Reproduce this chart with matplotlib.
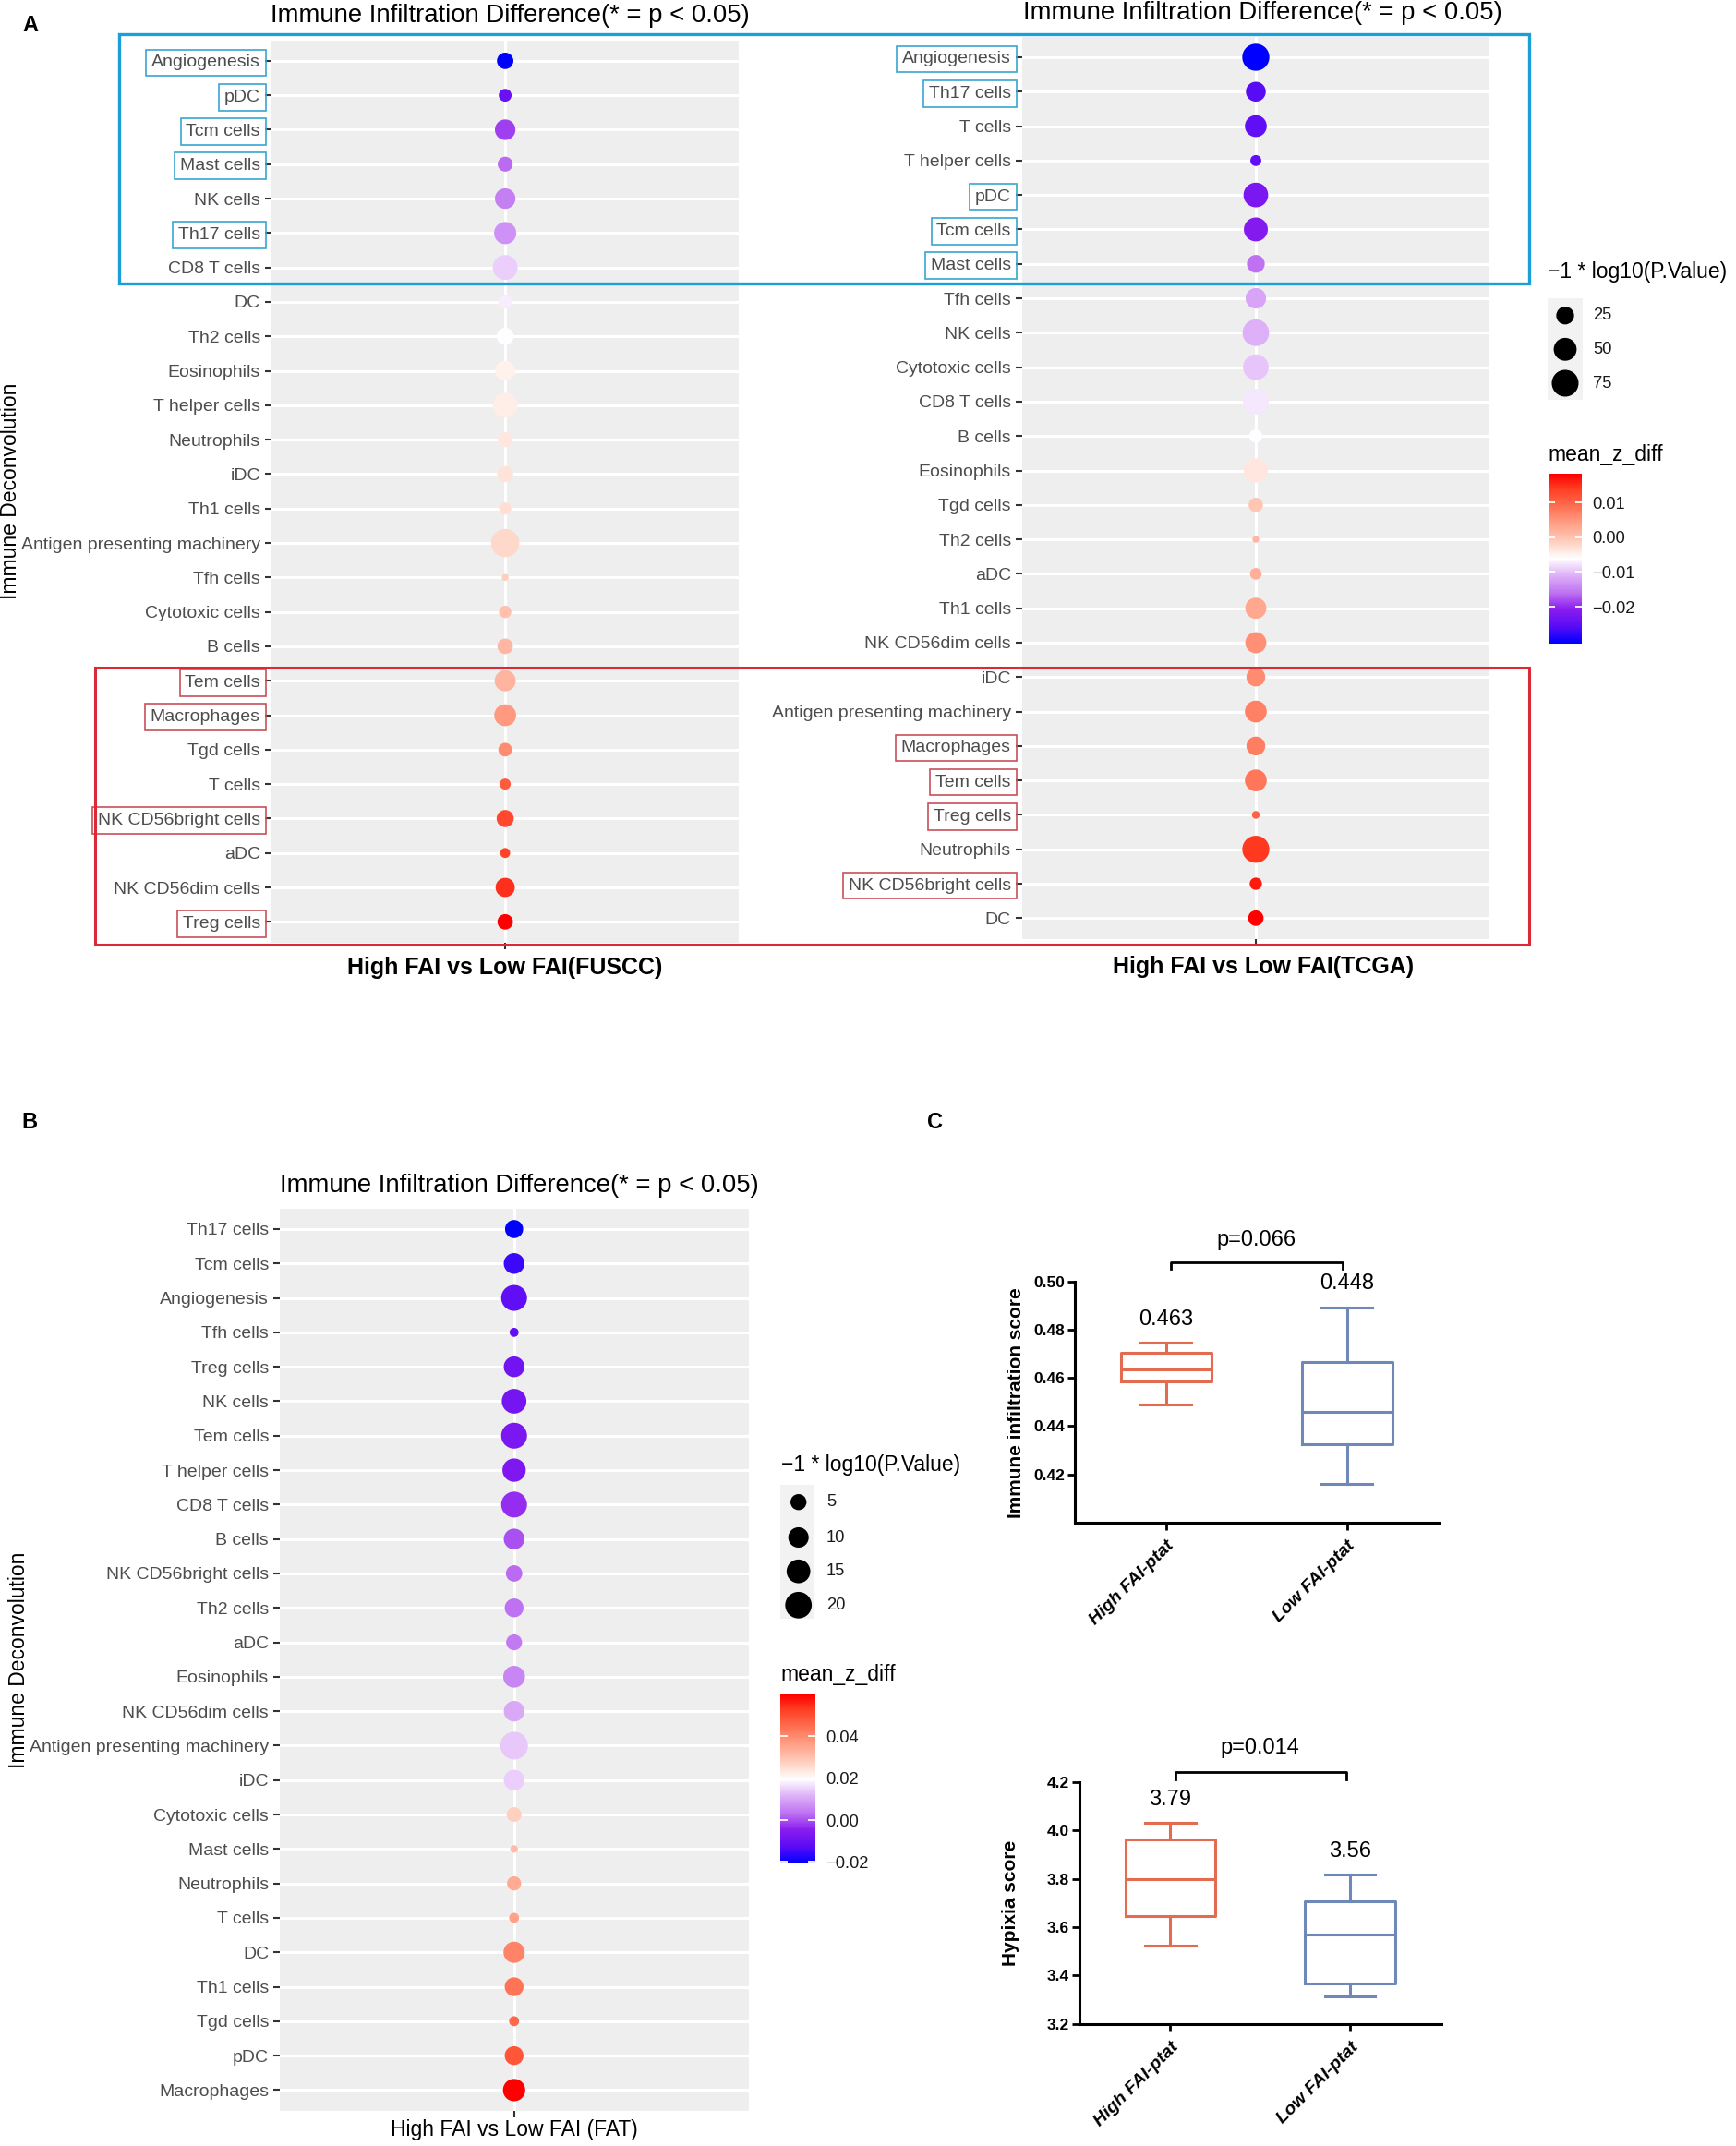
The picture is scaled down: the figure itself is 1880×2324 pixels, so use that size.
import numpy as np
import matplotlib
matplotlib.use('Agg')
import matplotlib.pyplot as plt
from matplotlib.colors import LinearSegmentedColormap, Normalize
from matplotlib.cm import ScalarMappable
from matplotlib.patches import Rectangle

################################################################
# data

# panel A, left: High FAI vs Low FAI (FUSCC)
FUSCC_CELLS = ['Angiogenesis', 'pDC', 'Tcm cells', 'Mast cells', 'NK cells', 'Th17 cells',
               'CD8 T cells', 'DC', 'Th2 cells', 'Eosinophils', 'T helper cells', 'Neutrophils',
               'iDC', 'Th1 cells', 'Antigen presenting machinery', 'Tfh cells', 'Cytotoxic cells',
               'B cells', 'Tem cells', 'Macrophages', 'Tgd cells', 'T cells', 'NK CD56bright cells',
               'aDC', 'NK CD56dim cells', 'Treg cells']
FUSCC_Z = [-0.0300, -0.0235, -0.0180, -0.0155, -0.0140, -0.0125, -0.0080, -0.0060, -0.0050,
           -0.0035, -0.0032, -0.0025, -0.0020, -0.0015, -0.0010, 0.0000, 0.0015, 0.0025, 0.0030,
           0.0060, 0.0075, 0.0125, 0.0145, 0.0150, 0.0165, 0.0200]
FUSCC_LOGP = [5.4, 2.4, 10.2, 4.0, 10.2, 12.6, 17.0, 3.1, 6.2, 9.4, 17.0, 4.0, 5.0, 2.0, 23.4,
              0.1, 2.1, 4.5, 11.0, 12.1, 3.0, 1.4, 6.1, 0.9, 8.5, 4.5]
FUSCC_BLUE = ['Angiogenesis', 'pDC', 'Tcm cells', 'Mast cells', 'Th17 cells']
FUSCC_RED = ['Tem cells', 'Macrophages', 'NK CD56bright cells', 'Treg cells']

# panel A, right: High FAI vs Low FAI (TCGA)
TCGA_CELLS = ['Angiogenesis', 'Th17 cells', 'T cells', 'T helper cells', 'pDC', 'Tcm cells',
              'Mast cells', 'Tfh cells', 'NK cells', 'Cytotoxic cells', 'CD8 T cells', 'B cells',
              'Eosinophils', 'Tgd cells', 'Th2 cells', 'aDC', 'Th1 cells', 'NK CD56dim cells', 'iDC',
              'Antigen presenting machinery', 'Macrophages', 'Tem cells', 'Treg cells',
              'Neutrophils', 'NK CD56bright cells', 'DC']
TCGA_Z = [-0.0305, -0.0256, -0.0251, -0.0247, -0.0222, -0.0212, -0.0159, -0.0120, -0.0110,
          -0.0096, -0.0076, -0.0062, -0.0037, -0.0003, 0.0012, 0.0021, 0.0031, 0.0055, 0.0060,
          0.0070, 0.0075, 0.0080, 0.0104, 0.0143, 0.0163, 0.0182]
TCGA_LOGP = [77, 34, 44, 4.9, 60.5, 56, 25, 37, 73, 66, 66, 10, 59, 13, 0.3, 6.2, 40, 40, 29,
             44, 29, 44, 0.85, 77, 7.6, 16.4]
TCGA_BLUE = ['Angiogenesis', 'Th17 cells', 'pDC', 'Tcm cells', 'Mast cells']
TCGA_RED = ['Macrophages', 'Tem cells', 'Treg cells', 'NK CD56bright cells']

# panel B: High FAI vs Low FAI (FAT)
FAT_CELLS = ['Th17 cells', 'Tcm cells', 'Angiogenesis', 'Tfh cells', 'Treg cells', 'NK cells',
             'Tem cells', 'T helper cells', 'CD8 T cells', 'B cells', 'NK CD56bright cells',
             'Th2 cells', 'aDC', 'Eosinophils', 'NK CD56dim cells', 'Antigen presenting machinery',
             'iDC', 'Cytotoxic cells', 'Mast cells', 'Neutrophils', 'T cells', 'DC', 'Th1 cells',
             'Tgd cells', 'pDC', 'Macrophages']
FAT_Z = [-0.0208, -0.0152, -0.0119, -0.0111, -0.0087, -0.0079, -0.0071, -0.0063, -0.0030,
         0.0002, 0.0026, 0.0034, 0.0042, 0.0058, 0.0107, 0.0139, 0.0147, 0.0276, 0.0308, 0.0341,
         0.0357, 0.0413, 0.0438, 0.0454, 0.0486, 0.0599]
FAT_LOGP = [7.2, 10.5, 18.8, 0.56, 10.5, 16.6, 18.8, 14.4, 18.8, 10.5, 5.4, 8.0, 4.9, 12.0,
            10.3, 22.3, 10.3, 3.9, 0.2, 3.35, 0.9, 11.2, 8.0, 0.9, 8.0, 12.8]

# legends
TCGA_SIZE_BREAKS = [25, 50, 75]
TCGA_Z_TICKS = [0.01, 0.00, -0.01, -0.02]
FAT_SIZE_BREAKS = [5, 10, 15, 20]
FAT_Z_TICKS = [0.04, 0.02, 0.00, -0.02]

# panel C: box plots (whislo, q1, med, q3, whishi)
GROUPS = ['High FAI-ptat', 'Low FAI-ptat']
INF_STATS = [[0.4489, 0.4587, 0.4635, 0.4704, 0.4745],
             [0.4162, 0.4324, 0.4460, 0.4665, 0.4893]]
INF_MEANS = ['0.463', '0.448']
INF_P = '0.066'
HYP_STATS = [[3.525, 3.645, 3.797, 3.964, 4.031],
             [3.312, 3.366, 3.568, 3.708, 3.817]]
HYP_MEANS = ['3.79', '3.56']
HYP_P = '0.014'

################################################################

W, H = 1880, 2324
PANEL_BG = '#EEEEEE'
BOX_COLORS = ['#E36B4F', '#6E88B7']
CMAP = LinearSegmentedColormap.from_list('z', [
    (0.00, '#0000FF'), (0.10, '#5A0CF6'), (0.20, '#8A1CEE'), (0.30, '#BF74F2'),
    (0.40, '#DDB0F8'), (0.46, '#F2DEFC'), (0.50, '#FFFFFF'), (0.56, '#FFE2D8'),
    (0.64, '#FFBCA8'), (0.72, '#FF9A80'), (0.82, '#FF6A4C'), (0.92, '#FF3A20'),
    (1.00, '#FF0000')])

plt.rcParams['font.family'] = ['Liberation Sans', 'DejaVu Sans']
fig = plt.figure(figsize=(W / 100, H / 100), dpi=100)


def px_rect(x0, y0, x1, y1):
    return [x0 / W, 1 - y1 / H, (x1 - x0) / W, (y1 - y0) / H]


def ftext(x, y, s, **kw):
    return fig.text(x / W, 1 - y / H, s, **kw)


def dot_pt(logp, k):
    return (6 + k * np.sqrt(np.asarray(logp, dtype=float))) * 0.72


def dot_panel(box, labels, z, logp, k, blue=(), red=()):
    ax = fig.add_axes(px_rect(*box))
    n = len(labels)
    y = np.arange(n)
    ax.set_facecolor(PANEL_BG)
    for yy in y:
        ax.axhline(yy, color='white', lw=2.2, zorder=1)
    ax.axvline(0, color='white', lw=2.2, zorder=1)
    norm = Normalize(vmin=min(z), vmax=max(z))
    ax.scatter(np.zeros(n), y, s=dot_pt(logp, k) ** 2, c=z, cmap=CMAP, norm=norm,
               edgecolors='none', zorder=3)
    ax.set_xlim(-0.6, 0.6)
    ax.set_ylim(n - 0.4, -0.6)
    ax.set_yticks(y)
    ax.set_yticklabels(labels)
    ax.set_xticks([0])
    ax.set_xticklabels([''])
    for sp in ax.spines.values():
        sp.set_visible(False)
    ax.tick_params(direction='out', length=5, width=1.5, color='#333333',
                   labelsize=14, labelcolor='#4D4D4D', pad=3.6)
    for lab in ax.get_yticklabels():
        t = lab.get_text()
        if t in blue:
            lab.set_bbox(dict(boxstyle='square,pad=0.3', fc='none', ec='#3AA6CF', lw=1.2))
        elif t in red:
            lab.set_bbox(dict(boxstyle='square,pad=0.3', fc='none', ec='#C8505A', lw=1.2))
    return ax, norm


def size_legend(title_xy, bg, cx, cys, breaks, k, lab_x):
    ftext(*title_xy, '\u22121 * log10(P.Value)', size=16.5, ha='left', va='center')
    lax = fig.add_axes(px_rect(*bg))
    lax.set_facecolor('#F2F2F2')
    lax.set_xlim(bg[0], bg[2])
    lax.set_ylim(bg[3], bg[1])
    lax.set_xticks([])
    lax.set_yticks([])
    for sp in lax.spines.values():
        sp.set_visible(False)
    lax.scatter([cx] * len(breaks), cys, s=dot_pt(breaks, k) ** 2, color='black',
                edgecolors='none')
    for b, cy in zip(breaks, cys):
        ftext(lab_x, cy, str(b), size=13.2, ha='left', va='center', color='#1A1A1A')


def colour_legend(title_xy, box, norm, ticks):
    ftext(*title_xy, 'mean_z_diff', size=16.5, ha='left', va='center')
    cax = fig.add_axes(px_rect(*box))
    cb = fig.colorbar(ScalarMappable(norm=norm, cmap=CMAP), cax=cax)
    cb.outline.set_visible(False)
    cb.set_ticks(ticks)
    cb.set_ticklabels([('%.2f' % t).replace('-', '\u2212') for t in ticks])
    cax.tick_params(length=0, labelsize=13.2, pad=8, labelcolor='#1A1A1A')
    cax.hlines(ticks, 0, 0.2, color='white', lw=1.3)
    cax.hlines(ticks, 0.8, 1.0, color='white', lw=1.3)


def box_panel(box, stats, ylim, yticks, fmt, means, bracket_y, drop, p_text, p_y, ylabel_xy, ylabel):
    ax = fig.add_axes(px_rect(*box))
    span = ylim[1] - ylim[0]
    for i, (lo, q1, med, q3, hi) in enumerate(stats):
        c = BOX_COLORS[i]
        st = dict(whislo=lo, q1=q1, med=med, q3=q3, whishi=hi, fliers=[])
        ax.bxp([st], positions=[i], widths=0.5, capwidths=0.28, showfliers=False,
               boxprops=dict(color=c, lw=2.2), whiskerprops=dict(color=c, lw=2.2),
               capprops=dict(color=c, lw=2.2), medianprops=dict(color=c, lw=2.2),
               manage_ticks=False)
        ax.text(i, hi + 0.097 * span, means[i], ha='center', va='center', size=17)
    ax.plot([0.027, 0.027, 0.977, 0.977],
            [bracket_y - drop, bracket_y, bracket_y, bracket_y - drop],
            color='black', lw=2.0, clip_on=False)
    ax.text(0.5, p_y, 'p=' + p_text, ha='center', va='center', size=17)
    ax.set_xlim(-0.505, 1.507)
    ax.set_ylim(*ylim)
    ax.set_yticks(yticks)
    ax.set_yticklabels([fmt % v for v in yticks], fontweight='bold', size=12.5)
    ax.set_xticks([0, 1])
    ax.set_xticklabels(GROUPS, rotation=45, ha='right', va='top', rotation_mode='anchor',
                       fontweight='bold', fontstyle='italic', size=14)
    for s in ('top', 'right'):
        ax.spines[s].set_visible(False)
    for s in ('left', 'bottom'):
        ax.spines[s].set_linewidth(2.2)
    ax.tick_params(direction='out', length=5.8, width=2, pad=2)
    ax.tick_params(axis='x', pad=6)
    ftext(*ylabel_xy, ylabel, rotation=90, ha='center', va='center', size=15, fontweight='bold')
    return ax


################################################################
# panel A

dot_panel((293.8, 43.5, 800.4, 1020.7), FUSCC_CELLS, FUSCC_Z, FUSCC_LOGP, 5.08,
          FUSCC_BLUE, FUSCC_RED)
ax_t, norm_t = dot_panel((1106.7, 39.6, 1613.3, 1016.7), TCGA_CELLS, TCGA_Z, TCGA_LOGP, 2.66,
                         TCGA_BLUE, TCGA_RED)

title = 'Immune Infiltration Difference(* = p < 0.05)'
ftext(552.8, 17, title, size=19.8, ha='center', va='center')
ftext(1367, 14, title, size=19.8, ha='center', va='center')
ftext(547, 1048, 'High FAI vs Low FAI(FUSCC)', size=18, fontweight='bold', ha='center', va='center')
ftext(1368, 1047, 'High FAI vs Low FAI(TCGA)', size=18, fontweight='bold', ha='center', va='center')
ftext(12, 532, 'Immune Deconvolution', size=16.5, rotation=90, ha='center', va='center')

size_legend((1676, 295), (1676, 323, 1714, 433), 1695, [341.7, 378.3, 415],
            TCGA_SIZE_BREAKS, 2.66, 1725)
colour_legend((1676, 492), (1676.7, 513.3, 1713.3, 696.7), norm_t, TCGA_Z_TICKS)

fig.add_artist(Rectangle((129 / W, 1 - 306.5 / H), (1656.4 - 129) / W, (306.5 - 37.2) / H,
                         transform=fig.transFigure, fill=False, ec='#1B9FD9', lw=2.4))
fig.add_artist(Rectangle((103 / W, 1 - 1022.7 / H), (1656.4 - 103) / W, (1022.7 - 723.3) / H,
                         transform=fig.transFigure, fill=False, ec='#DA2A35', lw=2.2))

# panel B
ax_b, norm_b = dot_panel((303, 1308.6, 810.5, 2285.8), FAT_CELLS, FAT_Z, FAT_LOGP, 5.08)
ftext(562.8, 1284, title, size=19.8, ha='center', va='center')
ftext(557, 2307, 'High FAI vs Low FAI (FAT)', size=16.5, ha='center', va='center')
ftext(21, 1798, 'Immune Deconvolution', size=16.5, rotation=90, ha='center', va='center')
size_legend((845.6, 1587), (845, 1608, 881, 1753), 864.7, [1626.7, 1665, 1701.7, 1738.3],
            FAT_SIZE_BREAKS, 5.08, 895)
colour_legend((845, 1813.4), (845, 1835.3, 883, 2018.3), norm_b, FAT_Z_TICKS)

# panel C
box_panel((1163.8, 1387.7, 1558, 1649), INF_STATS, (0.40, 0.50),
          [0.42, 0.44, 0.46, 0.48, 0.50], '%.2f', INF_MEANS, 0.508, 0.0028, INF_P, 0.5172,
          (1100, 1519), 'Immune infiltration score')
box_panel((1169, 1930, 1560.8, 2191.7), HYP_STATS, (3.2, 4.2),
          [3.2, 3.4, 3.6, 3.8, 4.0, 4.2], '%.1f', HYP_MEANS, 4.241, 0.031, HYP_P, 4.343,
          (1095, 2061), 'Hypixia score')

# panel letters
ftext(33, 27, 'A', size=17, fontweight='bold', ha='center', va='center')
ftext(31.6, 1216, 'B', size=17, fontweight='bold', ha='center', va='center')
ftext(1012.6, 1216, 'C', size=17, fontweight='bold', ha='center', va='center')

fig.savefig('out.png', dpi=100)
